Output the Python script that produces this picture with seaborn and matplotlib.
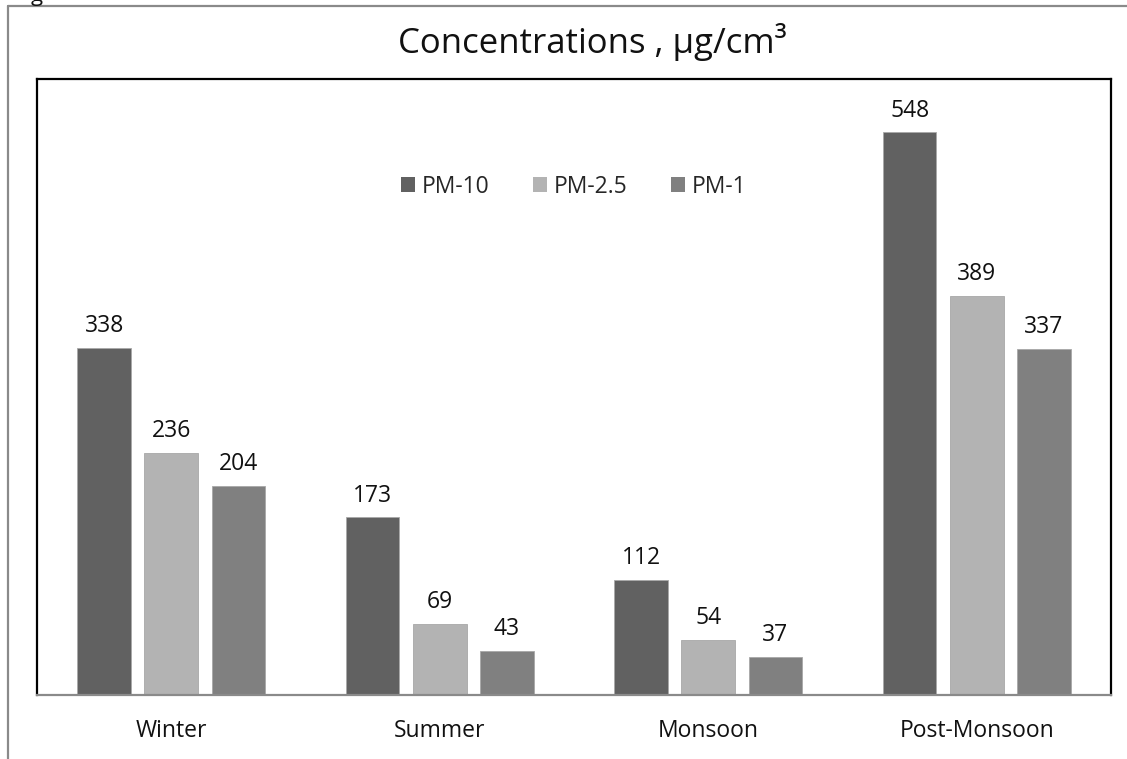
import matplotlib
matplotlib.use("Agg")
import matplotlib.pyplot as plt
from matplotlib.lines import Line2D
from matplotlib.patches import Patch
import pandas as pd
import seaborn as sns

seasons = ["Winter", "Summer", "Monsoon", "Post-Monsoon"]
pollutants = ["PM-10", "PM-2.5", "PM-1"]
pm10 = [338, 173, 112, 548]
pm25 = [236, 69, 54, 389]
pm1 = [204, 43, 37, 337]
colors = ["#616161", "#b3b3b3", "#808080"]

df = pd.DataFrame({
    "season": seasons * 3,
    "pollutant": [p for p in pollutants for _ in seasons],
    "value": pm10 + pm25 + pm1,
})

sns.set_theme(style="white")
plt.rcParams["font.family"] = ["Open Sans", "DejaVu Sans"]

W, H = 1127, 759
fig = plt.figure(figsize=(W / 100, H / 100), dpi=100)
ax = fig.add_axes([37 / W, 1 - 695 / H, (1111 - 37) / W, (695 - 79) / H])

sns.barplot(data=df, x="season", y="value", hue="pollutant",
            order=seasons, hue_order=pollutants,
            palette=colors, width=0.75, gap=0.2, errorbar=None,
            edgecolor="#a8a8a8", linewidth=0.6, ax=ax, legend=False)

ax.set_ylim(0, 600)
ax.set_xlim(-0.5, 3.5)
ax.set_xlabel("")
ax.set_ylabel("")
ax.set_yticks([])
ax.tick_params(axis="x", length=0, labelsize=16.5, pad=17, colors="#111111")

for side in ["left", "top", "right"]:
    ax.spines[side].set_color("#000000")
    ax.spines[side].set_linewidth(1.6)
ax.spines["bottom"].set_color("#8a8a8a")
ax.spines["bottom"].set_linewidth(1.6)

for cont in ax.containers:
    ax.bar_label(cont, labels=[f"{v:.0f}" for v in cont.datavalues],
                 padding=7, fontsize=16.5, color="#111111")

handles = [Patch(facecolor=c, edgecolor="none") for c in colors]
ax.legend(handles, pollutants, loc="center", bbox_to_anchor=(0.5, 0.825),
          ncol=3, frameon=False, fontsize=16.5, handlelength=0.6,
          handleheight=0.6, handletextpad=0.3, columnspacing=1.9)

# Title above the plotting box
fig.text(592 / W, 1 - 42 / H, "Concentrations , µg/cm³",
         ha="center", va="center", fontsize=25, color="#111111")

# Outer frame of the chart area
frame_kw = dict(color="#8a8a8a", linewidth=1.6, transform=fig.transFigure)
fig.add_artist(Line2D([8 / W, 8 / W], [0, 1 - 6 / H], **frame_kw))
fig.add_artist(Line2D([8 / W, 1.0], [1 - 6 / H, 1 - 6 / H], **frame_kw))

# Fragment of a preceding line of text clipped at the top edge
fig.text(37 / W, 1 + 4 / H, "g", ha="center", va="center", fontsize=16,
         color="#111111")

fig.savefig("out.png", dpi=100)
